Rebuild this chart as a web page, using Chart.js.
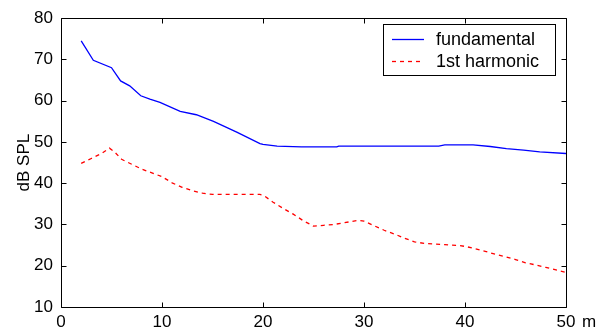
<!DOCTYPE html>
<html>
<head>
<meta charset="utf-8">
<script src="https://cdn.jsdelivr.net/npm/chart.js@4/dist/chart.umd.min.js"></script>
<style>
  html, body { margin: 0; padding: 0; background: #ffffff; }
  #wrap { width: 608px; height: 336px; position: relative; }
</style>
</head>
<body>
<div id="wrap"><canvas id="c" width="608" height="336"></canvas></div>
<script>
// ---- data ----
const seriesNames = ['fundamental', '1st harmonic'];
const xUnit = 'm';
const yTitle = 'dB SPL';
const xTicks = [0, 10, 20, 30, 40, 50];
const yTicks = [10, 20, 30, 40, 50, 60, 70, 80];

const fundDist  = [2, 3.2, 5, 5.9, 6.8, 7.9, 8.8, 9.8, 11.8, 13.4, 15.1, 17.4, 19.7, 20, 21.4, 23.8, 27.3, 27.5, 37.4, 38, 40.8, 42.5, 44.1, 45.8, 47.4, 50];
const fundLevel = [74.5, 69.8, 68.0, 64.8, 63.6, 61.2, 60.4, 59.6, 57.4, 56.6, 55.0, 52.4, 49.6, 49.4, 49.0, 48.8, 48.8, 49.0, 49.0, 49.3, 49.3, 48.9, 48.4, 48.0, 47.6, 47.2];

const harmDist  = [2, 3, 4, 4.8, 5.3, 6, 7, 8, 9, 10, 11, 12, 13, 14, 15, 19.7, 20.2, 21, 22, 23, 24, 25, 26, 27, 28, 29.4, 30, 31, 32, 33, 34, 35, 36, 38, 39.5, 40.2, 41, 42, 43, 44, 45, 46, 47, 48, 49, 50];
const harmLevel = [44.8, 46.0, 47.2, 48.5, 47.6, 45.8, 44.6, 43.4, 42.5, 41.6, 40.1, 39.0, 38.2, 37.6, 37.3, 37.3, 36.8, 35.4, 33.9, 32.5, 30.9, 29.6, 29.8, 30.0, 30.4, 31.0, 30.8, 29.7, 28.6, 27.7, 26.7, 25.8, 25.4, 25.1, 24.9, 24.6, 24.1, 23.5, 22.8, 22.2, 21.5, 20.7, 20.2, 19.6, 19.0, 18.4];

const FONT = '"Liberation Sans", Arial, sans-serif';

function pts(xs, ys) { return xs.map((x, i) => ({ x: x, y: ys[i] })); }

// box + inward ticks (MATLAB style), x unit label, legend
const decor = {
  id: 'decor',
  afterDraw(chart) {
    const { ctx, chartArea: a, scales: { x, y } } = chart;
    ctx.save();
    ctx.strokeStyle = '#000';
    ctx.lineWidth = 1;
    const L = Math.round(a.left) + 0.5, R = Math.round(a.right) + 0.5;
    const T = Math.round(a.top) + 0.5, B = Math.round(a.bottom) + 0.5;
    ctx.beginPath();
    ctx.rect(L, T, R - L, B - T);
    const tl = 5;
    xTicks.forEach(v => {
      const px = Math.round(x.getPixelForValue(v)) + 0.5;
      ctx.moveTo(px, B); ctx.lineTo(px, B - tl);
      ctx.moveTo(px, T); ctx.lineTo(px, T + tl);
    });
    yTicks.forEach(v => {
      const py = Math.round(y.getPixelForValue(v)) + 0.5;
      ctx.moveTo(L, py); ctx.lineTo(L + tl, py);
      ctx.moveTo(R, py); ctx.lineTo(R - tl, py);
    });
    ctx.stroke();

    // unit label next to last x tick
    ctx.fillStyle = '#000';
    ctx.font = '17px ' + FONT;
    ctx.textAlign = 'left';
    ctx.textBaseline = 'middle';
    ctx.fillText(xUnit, x.getPixelForValue(50) + 16, a.bottom + 5 + 10.2);

    // legend
    const bx = 383.5, by = 24.5, bw = 172, bh = 51;
    ctx.fillStyle = '#fff';
    ctx.fillRect(bx, by, bw, bh);
    ctx.strokeRect(bx, by, bw, bh);
    const rows = [39, 61];
    chart.data.datasets.forEach((ds, i) => {
      const ry = rows[i] + 0.5;
      ctx.beginPath();
      ctx.strokeStyle = ds.borderColor;
      ctx.lineWidth = ds.borderWidth;
      ctx.setLineDash(ds.borderDash || []);
      ctx.moveTo(392, ry); ctx.lineTo(424, ry);
      ctx.stroke();
      ctx.setLineDash([]);
      ctx.fillStyle = '#000';
      ctx.font = '18px ' + FONT;
      ctx.textBaseline = 'middle';
      ctx.fillText(ds.label, 436, rows[i] + 1);
    });
    ctx.restore();
  }
};

new Chart(document.getElementById('c'), {
  type: 'line',
  data: {
    datasets: [
      { label: seriesNames[0], data: pts(fundDist, fundLevel), borderColor: '#0000ff', borderWidth: 1.3, pointRadius: 0, tension: 0, fill: false },
      { label: seriesNames[1], data: pts(harmDist, harmLevel), borderColor: '#ff0000', borderWidth: 1.3, borderDash: [4, 4], pointRadius: 0, tension: 0, fill: false }
    ]
  },
  options: {
    responsive: false,
    animation: false,
    layout: { padding: { left: 0, top: 14, right: 42, bottom: 0 } },
    plugins: { legend: { display: false }, tooltip: { enabled: false } },
    scales: {
      x: {
        type: 'linear', min: 0, max: 50,
        afterBuildTicks: s => { s.ticks = xTicks.map(v => ({ value: v })); },
        afterFit: s => { s.height = 29; },
        grid: { display: false, drawTicks: false },
        border: { display: false },
        ticks: { color: '#000', font: { family: FONT, size: 17 }, padding: 5, maxRotation: 0, autoSkip: false }
      },
      y: {
        type: 'linear', min: 10, max: 80,
        afterBuildTicks: s => { s.ticks = yTicks.map(v => ({ value: v })); },
        afterFit: s => { s.width = 61; },
        grid: { display: false, drawTicks: false },
        border: { display: false },
        title: { display: true, text: yTitle, color: '#000', font: { family: FONT, size: 17 }, padding: { top: 14, bottom: 0 } },
        ticks: { color: '#000', font: { family: FONT, size: 17 }, padding: 8, autoSkip: false }
      }
    }
  },
  plugins: [decor]
});
</script>
</body>
</html>
